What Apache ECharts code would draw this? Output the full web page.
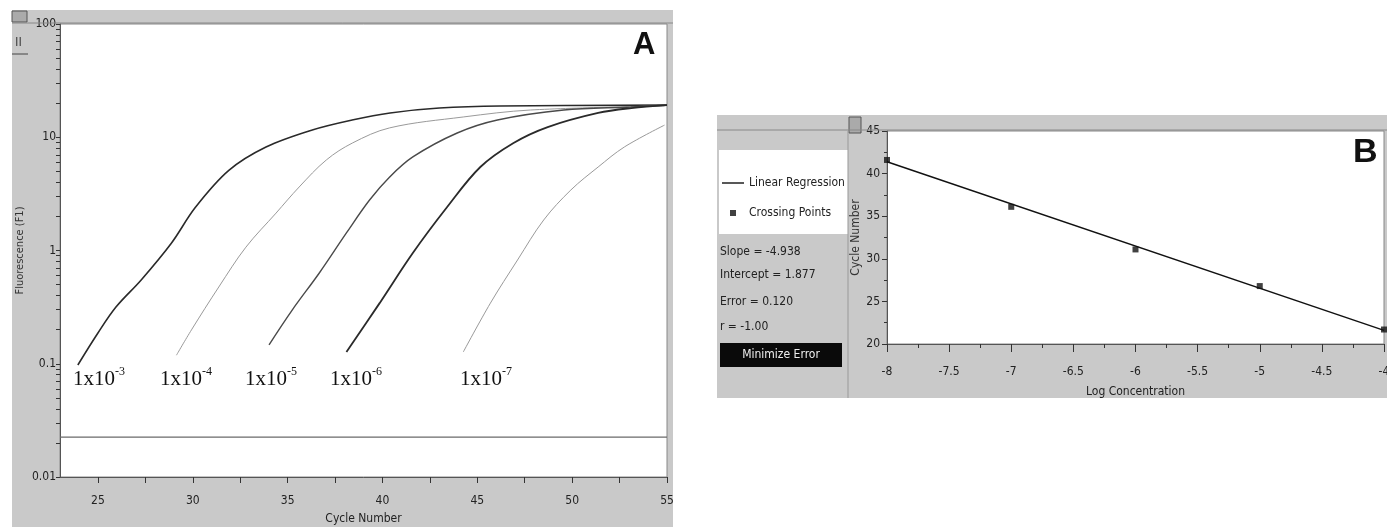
<!DOCTYPE html>
<html>
<head>
<meta charset="utf-8">
<script src="https://cdn.jsdelivr.net/npm/echarts@6/dist/echarts.min.js"></script>
<style>
html,body{margin:0;padding:0;background:#fff;}
#c{width:1387px;height:527px;}
</style>
</head>
<body>
<div id="c"></div>
<script>
// ---------- Panel A data (cycle, fluorescence) ----------
const curveE3 = [[23.94,0.0975],[25.0,0.187],[25.95,0.317],[27.28,0.55],[28.87,1.16],[30.15,2.42],[31.9,5.1],[33.86,8.2],[36.3,11.6],[38.4,14.2],[40.4,16.4],[43.0,18.1],[46.2,18.9],[55,19.2]];
const curveE4 = [[29.14,0.119],[29.93,0.199],[31.37,0.476],[32.8,1.07],[34.39,2.14],[35.61,3.64],[37.04,6.3],[38.42,8.9],[40.38,12.1],[44.26,15.1],[47.8,17.4],[54.87,18.9]];
const curveE5 = [[34.02,0.147],[35.24,0.298],[36.67,0.633],[38.1,1.43],[39.32,2.79],[40.38,4.46],[41.6,6.7],[43.94,10.9],[46.06,14.2],[49.56,17.4],[53.1,18.5],[55,19.2]];
const curveE6 = [[38.1,0.127],[39.85,0.343],[41.6,0.95],[43.41,2.42],[45.16,5.46],[46.91,8.9],[48.71,12.3],[51.37,16.4],[53.12,18.1],[55,19.2]];
const curveE7 = [[44.26,0.127],[45.69,0.343],[47.12,0.824],[48.5,1.86],[49.93,3.42],[51.37,5.46],[52.75,8.2],[54.87,12.8]];
const thresholdLine = [[23,0.0225],[55,0.0225]];
const cycleLabels = [25,30,35,40,45,50,55];
const cycleTicks = [25,27.5,30,32.5,35,37.5,40,42.5,45,47.5,50,52.5,55];
const fluoTicks = [0.01,0.02,0.03,0.04,0.05,0.06,0.07,0.08,0.09,0.1,0.2,0.3,0.4,0.5,0.6,0.7,0.8,0.9,1,2,3,4,5,6,7,8,9,10,20,30,40,50,60,70,80,90,100];
const dilutionExps = ['-3','-4','-5','-6','-7'];

// ---------- Panel B data (log concentration, cycle number) ----------
const logConc = [-8,-7,-6,-5,-4];
const crossingCycles = [41.6,36.1,31.1,26.8,21.7];
const regressionLine = [[-8,41.4],[-4,21.6]];
const statsText = ['Slope = -4.938','Intercept = 1.877','Error = 0.120','r = -1.00'];

const NARROW = "'Liberation Sans Narrow','DejaVu Sans Condensed','Liberation Sans',sans-serif";
const GRAY = '#c9c9c9';

const chart = echarts.init(document.getElementById('c'), null, {renderer:'canvas'});

const labelXs = [73,160,245,330,460];
const graphics = [
  // panel backgrounds
  {type:'rect', z:-10, shape:{x:12,y:10,width:661,height:517}, style:{fill:GRAY}},
  {type:'rect', z:-10, shape:{x:717,y:115,width:670,height:283}, style:{fill:GRAY}},
  // panel A corner icon
  {type:'rect', z:50, shape:{x:12,y:11,width:15,height:11}, style:{fill:'#aaa',stroke:'#555',lineWidth:1}},
  {type:'text', z:50, x:15, y:36, style:{text:'II', font:'13px '+NARROW, fill:'#444'}},
  {type:'line', z:50, shape:{x1:12,y1:54,x2:28,y2:54}, style:{stroke:'#444',lineWidth:1}},
  // panel B corner icon
  {type:'rect', z:50, shape:{x:849,y:117,width:12,height:16}, style:{fill:'#aaa',stroke:'#555',lineWidth:1}},
  // separator in panel B
  {type:'line', z:50, shape:{x1:848,y1:131,x2:848,y2:398}, style:{stroke:'#999',lineWidth:1}},
  // top band lines
  {type:'line', z:50, shape:{x1:12,y1:23,x2:673,y2:23}, style:{stroke:'#888',lineWidth:1}},
  {type:'line', z:50, shape:{x1:717,y1:130,x2:1387,y2:130}, style:{stroke:'#888',lineWidth:1}},
  // panel letters
  {type:'text', z:50, x:633, y:30, style:{text:'A', font:'bold 31px "Liberation Sans",Arial,sans-serif', fill:'#111'}},
  {type:'text', z:50, x:1353, y:136, style:{text:'B', font:'bold 34px "Liberation Sans",Arial,sans-serif', fill:'#111'}},
  // minimize error button
  {type:'rect', z:50, shape:{x:720,y:343,width:122,height:24}, style:{fill:'#0a0a0a'}},
  {type:'text', z:51, x:781, y:355, style:{text:'Minimize Error', font:'12px '+NARROW, fill:'#eee', align:'center', verticalAlign:'middle'}}
];
const statYs = [252,275,302,327];
statsText.forEach((t,i)=>{
  graphics.push({type:'text', z:50, x:720, y:statYs[i], style:{text:t, font:'12px '+NARROW, fill:'#222', verticalAlign:'middle'}});
});
dilutionExps.forEach((e,i)=>{
  graphics.push({type:'text', z:50, x:labelXs[i], y:366, style:{
    text:'{a|1x10}{s|'+e+'}',
    rich:{
      a:{fontFamily:"'Liberation Serif','DejaVu Serif',serif", fontSize:21, fill:'#111', color:'#111', verticalAlign:'bottom', lineHeight:24},
      s:{fontFamily:"'Liberation Serif','DejaVu Serif',serif", fontSize:12, fill:'#111', color:'#111', verticalAlign:'top', lineHeight:24}
    }
  }});
});

const axisLabelStyle = {fontFamily:NARROW, fontSize:12, color:'#222'};

const option = {
  animation:false,
  backgroundColor:'#fff',
  graphic:graphics,
  legend:{
    left:719, top:150, orient:'vertical',
    backgroundColor:'#fff', padding:[27,3,15,3], itemGap:18,
    itemWidth:22, itemHeight:6,
    textStyle:{fontFamily:NARROW, fontSize:12, color:'#222'},
    data:[
      {name:'Linear Regression', icon:'path://M0,0L22,0L22,1.4L0,1.4Z'},
      {name:'Crossing Points', icon:'path://M0,0L10,0L10,10L0,10Z'}
    ]
  },
  grid:[
    {left:60, top:24, width:607, height:453, show:true, backgroundColor:'#fff', borderColor:'#888', borderWidth:1, containLabel:false, outerBoundsMode:'none'},
    {left:887, top:131, width:497, height:213, show:true, backgroundColor:'#fff', borderColor:'#888', borderWidth:1, containLabel:false, outerBoundsMode:'none'}
  ],
  xAxis:[
    {gridIndex:0, type:'value', min:23, max:55,
     name:'Cycle Number', nameLocation:'middle', nameGap:36,
     nameTextStyle:{fontFamily:NARROW, fontSize:12, color:'#222'},
     axisLine:{show:true, lineStyle:{color:'#555'}},
     axisTick:{show:true, inside:false, length:6, customValues:cycleTicks, lineStyle:{color:'#333'}},
     axisLabel:Object.assign({customValues:cycleLabels, margin:18}, axisLabelStyle),
     splitLine:{show:false}},
    {gridIndex:1, type:'value', min:-8, max:-4, interval:0.5,
     name:'Log Concentration', nameLocation:'middle', nameGap:42,
     nameTextStyle:{fontFamily:NARROW, fontSize:12, color:'#222'},
     axisLine:{show:true, lineStyle:{color:'#555'}},
     axisTick:{show:true, length:8, lineStyle:{color:'#333'}},
     minorTick:{show:true, splitNumber:2, length:4, lineStyle:{color:'#333'}},
     axisLabel:Object.assign({margin:22}, axisLabelStyle),
     splitLine:{show:false}}
  ],
  yAxis:[
    {gridIndex:0, type:'log', logBase:10, min:0.01, max:100,
     name:'Fluorescence (F1)', nameLocation:'middle', nameGap:34,
     nameTextStyle:{fontFamily:NARROW, fontSize:11, color:'#333'},
     axisLine:{show:true, lineStyle:{color:'#555'}},
     axisTick:{show:true, length:4, customValues:fluoTicks, lineStyle:{color:'#333'}},
     axisLabel:Object.assign({margin:4, formatter:v=>String(+v.toPrecision(3))}, axisLabelStyle),
     splitLine:{show:false}},
    {gridIndex:1, type:'value', min:20, max:45, interval:5,
     name:'Cycle Number', nameLocation:'middle', nameGap:23,
     nameTextStyle:{fontFamily:NARROW, fontSize:12, color:'#333'},
     axisLine:{show:true, lineStyle:{color:'#555'}},
     axisTick:{show:true, length:5, lineStyle:{color:'#333'}},
     minorTick:{show:true, splitNumber:2, length:3, lineStyle:{color:'#333'}},
     axisLabel:Object.assign({margin:7}, axisLabelStyle),
     splitLine:{show:false}}
  ],
  series:[
    {name:'threshold', type:'line', xAxisIndex:0, yAxisIndex:0, data:thresholdLine, symbol:'none', lineStyle:{color:'#6a6a6a', width:1.2}},
    {name:'1x10-3', type:'line', xAxisIndex:0, yAxisIndex:0, data:curveE3, symbol:'none', smooth:0.35, lineStyle:{color:'#2a2a2a', width:1.6}},
    {name:'1x10-4', type:'line', xAxisIndex:0, yAxisIndex:0, data:curveE4, symbol:'none', smooth:0.35, lineStyle:{color:'#9a9a9a', width:1}},
    {name:'1x10-5', type:'line', xAxisIndex:0, yAxisIndex:0, data:curveE5, symbol:'none', smooth:0.35, lineStyle:{color:'#4a4a4a', width:1.4}},
    {name:'1x10-6', type:'line', xAxisIndex:0, yAxisIndex:0, data:curveE6, symbol:'none', smooth:0.35, lineStyle:{color:'#2a2a2a', width:1.8}},
    {name:'1x10-7', type:'line', xAxisIndex:0, yAxisIndex:0, data:curveE7, symbol:'none', smooth:0.35, lineStyle:{color:'#9a9a9a', width:1}},
    {name:'Linear Regression', type:'line', xAxisIndex:1, yAxisIndex:1, data:regressionLine, symbol:'none', lineStyle:{color:'#111', width:1.5}, itemStyle:{color:'#111'}},
    {name:'Crossing Points', type:'scatter', xAxisIndex:1, yAxisIndex:1, data:logConc.map((x,i)=>[x,crossingCycles[i]]), symbol:'rect', symbolSize:6, itemStyle:{color:'#111'}}
  ]
};
chart.setOption(option);
</script>
</body>
</html>
